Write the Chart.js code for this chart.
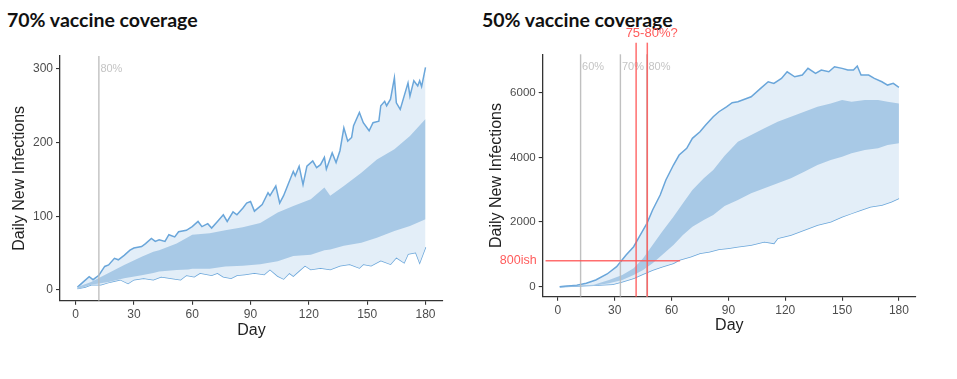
<!DOCTYPE html>
<html><head><meta charset="utf-8">
<script src="https://cdn.jsdelivr.net/npm/chart.js@4.4.1/dist/chart.umd.min.js"></script>
<style>
html,body{margin:0;padding:0;background:#fff;width:957px;height:379px;overflow:hidden;}
.title{position:absolute;font-family:Lato,'Open Sans',sans-serif;font-weight:700;font-size:19.5px;line-height:20px;color:#111;white-space:nowrap;}
canvas{position:absolute;top:0;}
</style></head><body>
<div class="title" style="left:7px;top:9.8px">70% vaccine coverage</div>
<div class="title" style="left:482px;top:9.8px">50% vaccine coverage</div>
<canvas id="c1" width="465" height="379" style="left:0px"></canvas>
<canvas id="c2" width="487" height="379" style="left:470px"></canvas>
<script>
// ---------- shared ----------
const xTicks = [0, 30, 60, 90, 120, 150, 180];
const leftYTicks = [0, 100, 200, 300];
const rightYTicks = [0, 2000, 4000, 6000];

// ---------- 70% coverage (left) ----------
const l_outerUpperDays = [1,4,7,9,12,15,17,20,22,25,28,30,34,36,39,41,43,46,48,51,53,57,60,63,65,68,70,73,76,78,81,83,86,88,90,92,96,99,100,103,105,107,109,112,113,115,117,119,122,124,126,128,129,132,134,136,138,140,142,143,146,148,151,153,156,157,159,160,162,164,165,167,171,172,174,176,177,178,180];
const l_outerUpperVals = [4,11,18,14,20,32,34,43,41,47,54,57,59,63,70,66,68,66,75,72,79,81,86,93,86,90,84,93,102,93,106,102,111,118,120,107,116,132,128,141,118,128,141,161,155,168,143,168,175,166,170,180,164,186,173,189,220,202,207,223,241,227,216,227,229,250,256,250,259,288,254,245,281,263,284,277,284,276,302];
const l_outerLowerDays = [1,5,8,13,18,23,27,30,35,40,44,49,54,57,61,64,70,73,76,80,83,87,92,97,100,104,107,110,112,115,118,121,126,131,136,141,146,148,152,157,162,165,169,171,175,177,180];
const l_outerLowerVals = [2,4,7,7,11,14,9,14,16,14,18,16,14,20,18,23,20,23,18,16,20,21,23,21,28,19,15,23,19,26,33,28,30,28,33,35,30,35,33,40,35,44,37,49,51,37,58];
const l_innerDays = [1,8,17,25,34,40,43,52,58,60,69,77,86,95,104,112,121,128,131,138,147,155,164,172,180];
const l_innerUpperVals = [4,11,23,34,45,52,54,63,72,75,77,81,85,91,105,114,123,139,128,141,159,177,191,209,232];
const l_innerLowerVals = [1,7,11,16,20,23,25,27,28,29,29,32,33,35,39,46,48,54,55,60,64,71,80,87,96];
const l_grayLines = [12];
const l_grayLabels = ['80%'];

// ---------- 50% coverage (right) ----------
const r_outerUpperDays = [1,10,15,20,26,31,36,40,43,47,50,54,57,61,64,68,71,75,78,82,85,89,92,95,102,107,111,114,118,121,125,129,132,136,139,143,146,150,153,156,158,160,164,167,171,174,177,180];
const r_outerUpperVals = [0,43,105,207,393,619,980,1237,1547,1960,2372,2836,3300,3764,4073,4280,4590,4795,5000,5258,5413,5567,5691,5722,5877,6136,6340,6290,6445,6650,6495,6548,6755,6600,6703,6650,6805,6755,6703,6703,6826,6548,6548,6445,6340,6238,6290,6170];
const r_outerLowerDays = [1,19,29,34,40,45,50,55,61,64,70,75,80,85,90,95,102,109,114,116,123,130,137,144,150,155,160,165,171,176,180];
const r_outerLowerVals = [0,43,74,155,258,393,516,619,722,825,928,1031,1083,1155,1186,1237,1289,1392,1341,1495,1598,1753,1907,2010,2165,2268,2372,2475,2527,2630,2733];
const r_innerDays = [1,19,27,34,40,45,50,55,61,66,71,77,82,88,95,102,109,116,123,130,137,144,150,155,162,169,174,180];
const r_innerUpperVals = [0,62,207,362,568,878,1289,1701,2165,2578,2990,3352,3609,4050,4485,4692,4900,5103,5258,5413,5567,5670,5774,5722,5774,5774,5722,5670];
const r_innerLowerVals = [0,31,105,207,362,516,722,980,1289,1598,1856,2063,2217,2500,2681,2888,3043,3197,3352,3557,3764,3919,4021,4126,4228,4280,4383,4435];
const r_grayLines = [12, 33, 47];
const r_grayLabels = ['60%', '70%', '80%'];
const r_redLines = [41.3, 47.2];
const r_redLineTop = 7550;
const r_redH = {value: 800, from: -6.5, to: 64.5, label: '800ish'};
const r_redLabel = {text: '75-80%?', day: 49.5, value: 7840};

// ---------- styles ----------
const LINE = '#6aa6da';
const LIGHT = '#e3eef8';
const DARK = '#a8c9e6';
const FONT = "'Liberation Sans', Arial, sans-serif";

function pts(d, v) { return d.map((x, i) => ({x: x, y: v[i]})); }

function annotPlugin(opts) {
  return {
    id: 'annot',
    afterDatasetsDraw(chart) {
      const ctx = chart.ctx, xs = chart.scales.x, ys = chart.scales.y, a = chart.chartArea;
      ctx.save();
      ctx.strokeStyle = 'rgba(185,185,185,0.9)';
      ctx.lineWidth = 1.4;
      ctx.font = '11px ' + FONT;
      ctx.textBaseline = 'middle';
      ctx.textAlign = 'left';
      opts.gray.forEach((d, i) => {
        const px = xs.getPixelForValue(d);
        ctx.beginPath(); ctx.moveTo(px, a.top); ctx.lineTo(px, a.bottom); ctx.stroke();
        ctx.fillStyle = '#c4c4c4';
        ctx.fillText(opts.grayLabels[i], px + 1.5, a.top + 12.5);
      });
      if (opts.red) {
        ctx.strokeStyle = 'rgba(255,85,85,0.85)';
        ctx.lineWidth = 1.5;
        opts.red.lines.forEach(d => {
          const px = xs.getPixelForValue(d);
          ctx.beginPath(); ctx.moveTo(px, ys.getPixelForValue(opts.red.top)); ctx.lineTo(px, a.bottom); ctx.stroke();
        });
        const h = opts.red.h;
        const py = ys.getPixelForValue(h.value);
        ctx.beginPath(); ctx.moveTo(xs.getPixelForValue(h.from), py); ctx.lineTo(xs.getPixelForValue(h.to), py); ctx.stroke();
        ctx.fillStyle = '#ff5c5c';
        ctx.font = '12.5px ' + FONT;
        ctx.textAlign = 'right';
        ctx.fillText(h.label, a.left - 6, py);
        ctx.font = '13px ' + FONT;
        ctx.textAlign = 'center';
        const L = opts.red.label;
        ctx.fillText(L.text, xs.getPixelForValue(L.day), ys.getPixelForValue(L.value));
      }
      ctx.restore();
    }
  };
}

function makeChart(id, d, o) {
  return new Chart(document.getElementById(id), {
    type: 'line',
    data: {
      datasets: [
        {data: pts(d.ouD, d.ouV), borderColor: LINE, borderWidth: 1.5, backgroundColor: LIGHT, fill: 1, order: 2, pointRadius: 0, tension: 0},
        {data: pts(d.olD, d.olV), borderColor: LINE, borderWidth: 1.5, fill: false, order: 2, pointRadius: 0, tension: 0},
        {data: pts(d.iD, d.iuV), borderWidth: 0, borderColor: 'rgba(0,0,0,0)', backgroundColor: DARK, fill: 3, order: 1, pointRadius: 0, tension: 0},
        {data: pts(d.iD, d.ilV), borderWidth: 0, borderColor: 'rgba(0,0,0,0)', fill: false, order: 1, pointRadius: 0, tension: 0}
      ]
    },
    options: {
      responsive: false, animation: false, devicePixelRatio: 1,
      layout: {padding: o.padding},
      plugins: {legend: {display: false}, tooltip: {enabled: false}},
      scales: {
        x: {
          type: 'linear', min: -8, max: 189,
          afterBuildTicks: s => { s.ticks = xTicks.map(v => ({value: v})); },
          afterFit: s => { s.height = 40; },
          grid: {drawOnChartArea: false, drawTicks: true, tickLength: 4, color: '#333', lineWidth: 1.1},
          border: {display: true, color: '#333', width: 1.3},
          ticks: {color: '#4d4d4d', font: {family: FONT, size: 12}, padding: 3, maxRotation: 0, autoSkip: false, callback: v => String(v)},
          title: {display: true, text: 'Day', color: '#222', font: {family: FONT, size: 16}, padding: {top: 0, bottom: o.xTitlePad}}
        },
        y: {
          type: 'linear', min: o.yMin, max: o.yMax,
          afterBuildTicks: s => { s.ticks = o.yTicks.map(v => ({value: v})); },
          afterFit: s => { s.width = o.yWidth; },
          grid: {drawOnChartArea: false, drawTicks: true, tickLength: 4, color: '#333', lineWidth: 1.1},
          border: {display: true, color: '#333', width: 1.3},
          ticks: {color: '#4d4d4d', font: {family: FONT, size: o.yTickSize}, padding: 3, autoSkip: false, callback: v => String(v)},
          title: {display: true, text: 'Daily New Infections', color: '#222', font: {family: FONT, size: 16}, padding: {top: o.yTitlePad, bottom: 0}}
        }
      }
    },
    plugins: [annotPlugin(o.annot)]
  });
}

makeChart('c1',
  {ouD: l_outerUpperDays, ouV: l_outerUpperVals, olD: l_outerLowerDays, olV: l_outerLowerVals, iD: l_innerDays, iuV: l_innerUpperVals, ilV: l_innerLowerVals},
  {padding: {left: 0, right: 22, top: 56, bottom: 38.3}, yMin: -14.5, yMax: 317.5, yTicks: leftYTicks, yWidth: 60, yTickSize: 12, yTitlePad: 10.4, xTitlePad: 1,
   annot: {gray: l_grayLines, grayLabels: l_grayLabels}});

makeChart('c2',
  {ouD: r_outerUpperDays, ouV: r_outerUpperVals, olD: r_outerLowerDays, olV: r_outerLowerVals, iD: r_innerDays, iuV: r_innerUpperVals, ilV: r_innerLowerVals},
  {padding: {left: 0, right: 41, top: 54.3, bottom: 42.3}, yMin: -310, yMax: 7190, yTicks: rightYTicks, yWidth: 72.7, yTickSize: 11.5, yTitlePad: 17.1, xTitlePad: 2,
   annot: {gray: r_grayLines, grayLabels: r_grayLabels, red: {lines: r_redLines, top: r_redLineTop, h: r_redH, label: r_redLabel}}});
</script>
</body></html>
